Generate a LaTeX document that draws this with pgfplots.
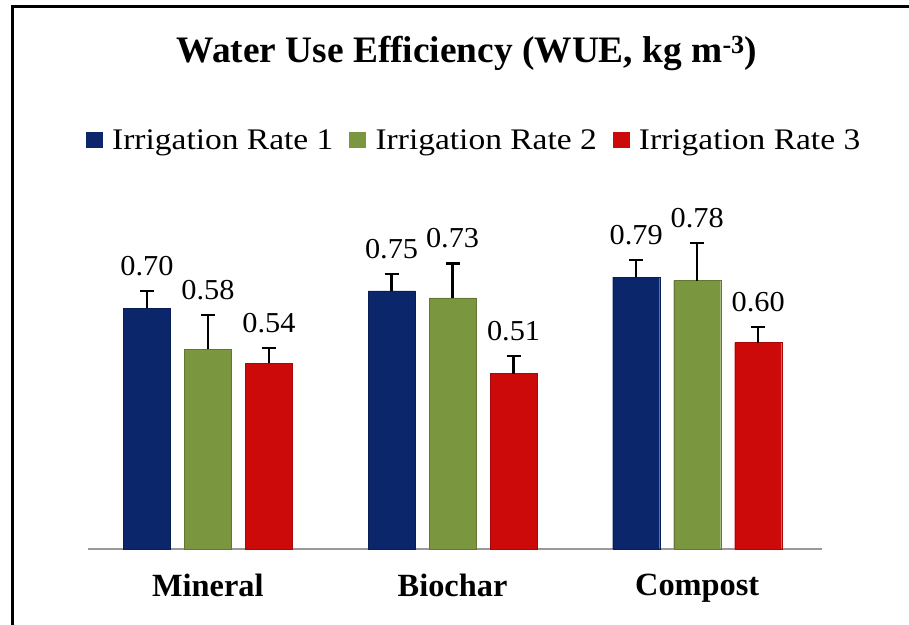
\documentclass[border=0pt]{standalone}
\usepackage{pgfplots}
\usepackage{pgfplotstable}
\pgfplotsset{compat=1.18}
\usepackage{fontspec}
\setmainfont{Liberation Serif}
\newfontfamily\stretchfont[FakeStretch=1.12]{Liberation Serif}
\newfontfamily\valfont[FakeStretch=1.05]{Liberation Serif}

\definecolor{cblue}{RGB}{12,38,108}
\definecolor{cgreen}{RGB}{122,150,62}
\definecolor{cred}{RGB}{205,10,10}

\pgfplotstableread{
x y e
0 0.70 0.05
1 0.75 0.05
2 0.79 0.05
}\rateA
\pgfplotstableread{
x y e
0 0.58 0.10
1 0.73 0.10
2 0.78 0.11
}\rateB
\pgfplotstableread{
x y e
0 0.54 0.045
1 0.51 0.05
2 0.60 0.045
}\rateC

\pgfplotsset{errstyle/.style={
  error bars/y dir=plus, error bars/y explicit,
  error bars/error bar style={line width=2.2bp, black, solid},
  error bars/error mark options={rotate=90, mark size=7bp, line width=2.2bp, black, solid}}}

\begin{document}
\begin{tikzpicture}[x=1bp,y=1bp]
\useasboundingbox (0,0) rectangle (909,625);
\draw[line width=3bp] (12,0) -- (12,618) -- (909,618);
\node[anchor=base,font=\bfseries\fontsize{37.5}{40}\selectfont] at (467,562) {Water Use Efficiency (WUE, kg m\textsuperscript{-3})};
\begin{axis}[
  at={(88bp,76bp)}, anchor=south west,
  scale only axis, width=734bp, height=344bp,
  ymin=0, ymax=1, xmin=-0.49, xmax=2.51,
  hide y axis,
  axis x line*=bottom,
  x axis line style={draw=gray!80, line width=1.8bp, -},
  xtick={0,1,2}, xticklabels={Mineral,Biochar,Compost},
  major tick length=0pt,
  xticklabel style={font=\bfseries\fontsize{32.5}{36}\selectfont, yshift=-22bp},
  ybar=14bp, bar width=47bp,
  clip=false,
  /pgf/number format/assume math mode=true,
  visualization depends on={\thisrow{e} \as \err},
  nodes near coords={\pgfmathprintnumber[fixed,fixed zerofill,precision=2]{\pgfplotspointmeta}},
  every node near coord/.append style={font=\valfont\fontsize{29}{32}\selectfont, anchor=south, inner sep=0pt, shift={(axis direction cs:0,\err)}, yshift=15bp, black},
  legend columns=3,
  legend style={draw=none, fill=none, at={(0.526,1.189)}, anchor=center,
    font=\stretchfont\fontsize{30}{32}\selectfont,
    /tikz/every even column/.append style={column sep=14bp}},
  legend image code/.code={\fill[#1,draw=none] (0bp,-8bp) rectangle (17bp,8bp); \path (24bp,0bp);},
]
\addplot[fill=cblue, draw=cblue!80!black, errstyle] table[x=x,y=y,y error=e] {\rateA};
\addplot[fill=cgreen, draw=cgreen!80!black, errstyle] table[x=x,y=y,y error=e] {\rateB};
\addplot[fill=cred, draw=cred!80!black, errstyle] table[x=x,y=y,y error=e] {\rateC};
\legend{Irrigation Rate 1,Irrigation Rate 2,Irrigation Rate 3}
\end{axis}
\end{tikzpicture}
\end{document}
